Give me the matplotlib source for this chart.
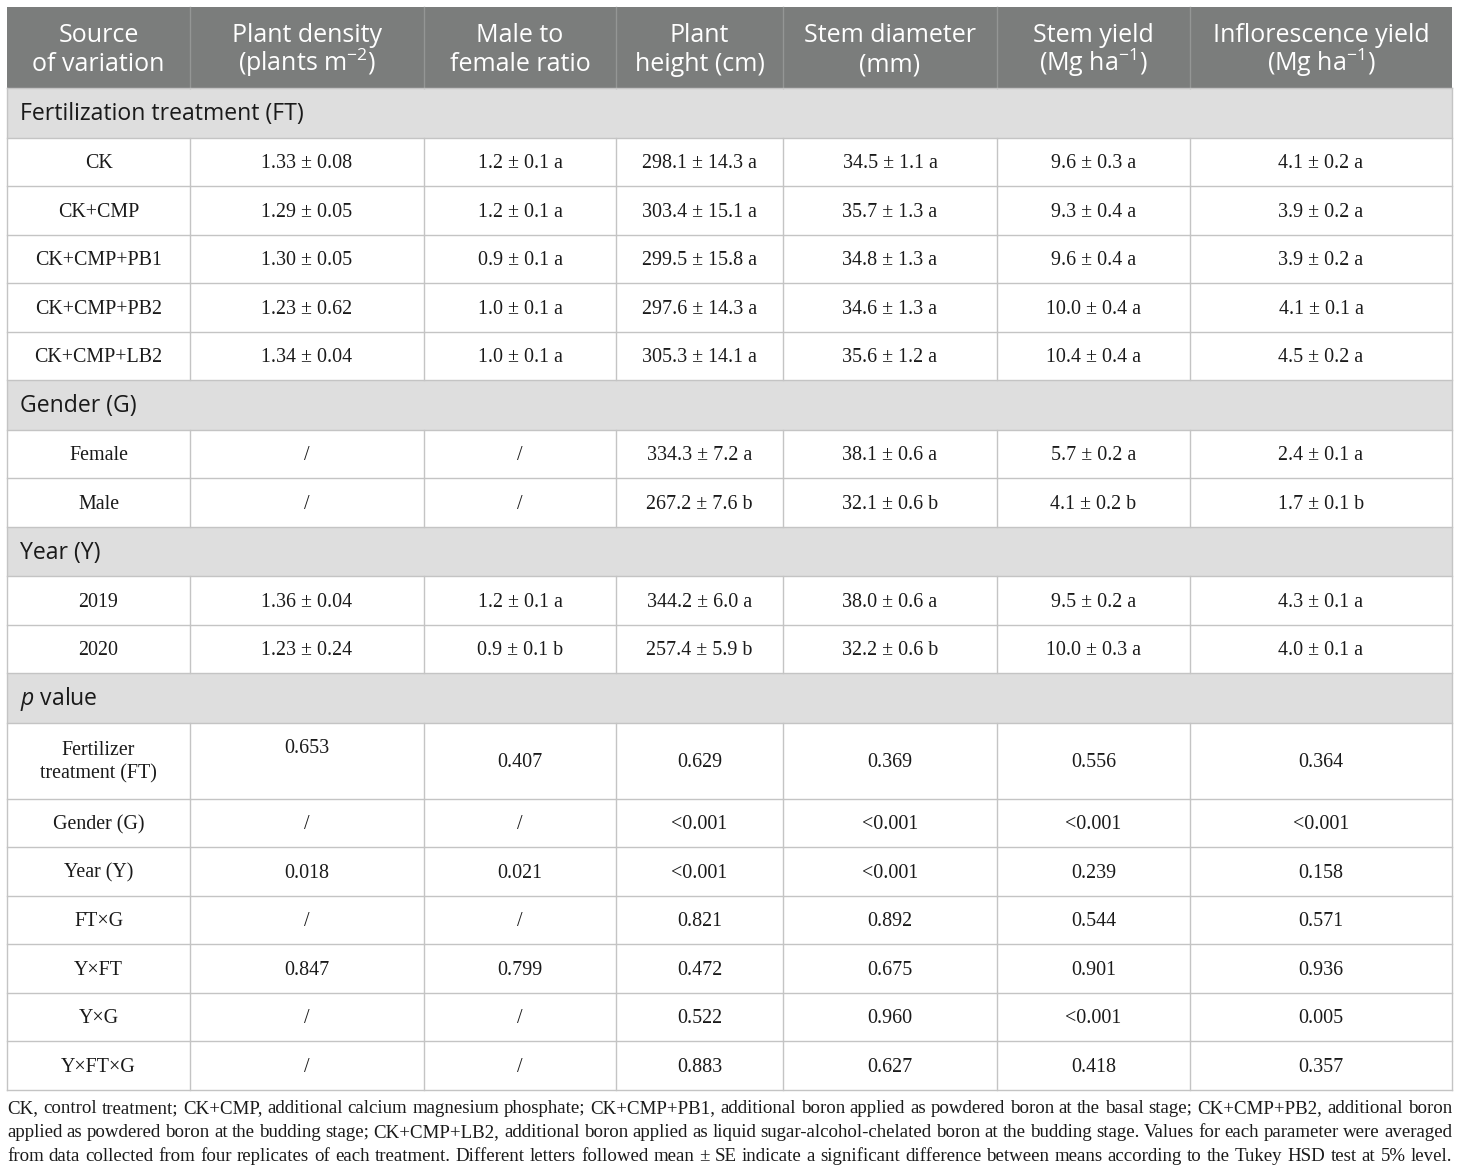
import matplotlib
matplotlib.use("Agg")
import matplotlib.pyplot as plt
from matplotlib.patches import Rectangle

plt.rcParams["mathtext.fontset"] = "custom"
plt.rcParams["mathtext.rm"] = "Open Sans"
plt.rcParams["mathtext.it"] = "Open Sans:italic"

# ---- table content ----
headers = [
    "Source\nof variation",
    "Plant density\n(plants m$^{-2}$)",
    "Male to\nfemale ratio",
    "Plant\nheight (cm)",
    "Stem diameter\n(mm)",
    "Stem yield\n(Mg ha$^{-1}$)",
    "Inflorescence yield\n(Mg ha$^{-1}$)",
]

ft_names = ["CK", "CK+CMP", "CK+CMP+PB1", "CK+CMP+PB2", "CK+CMP+LB2"]
ft_density = ["1.33 ± 0.08", "1.29 ± 0.05", "1.30 ± 0.05", "1.23 ± 0.62", "1.34 ± 0.04"]
ft_ratio = ["1.2 ± 0.1 a", "1.2 ± 0.1 a", "0.9 ± 0.1 a", "1.0 ± 0.1 a", "1.0 ± 0.1 a"]
ft_height = ["298.1 ± 14.3 a", "303.4 ± 15.1 a", "299.5 ± 15.8 a", "297.6 ± 14.3 a", "305.3 ± 14.1 a"]
ft_diam = ["34.5 ± 1.1 a", "35.7 ± 1.3 a", "34.8 ± 1.3 a", "34.6 ± 1.3 a", "35.6 ± 1.2 a"]
ft_stem = ["9.6 ± 0.3 a", "9.3 ± 0.4 a", "9.6 ± 0.4 a", "10.0 ± 0.4 a", "10.4 ± 0.4 a"]
ft_infl = ["4.1 ± 0.2 a", "3.9 ± 0.2 a", "3.9 ± 0.2 a", "4.1 ± 0.1 a", "4.5 ± 0.2 a"]

g_names = ["Female", "Male"]
g_density = ["/", "/"]
g_ratio = ["/", "/"]
g_height = ["334.3 ± 7.2 a", "267.2 ± 7.6 b"]
g_diam = ["38.1 ± 0.6 a", "32.1 ± 0.6 b"]
g_stem = ["5.7 ± 0.2 a", "4.1 ± 0.2 b"]
g_infl = ["2.4 ± 0.1 a", "1.7 ± 0.1 b"]

y_names = ["2019", "2020"]
y_density = ["1.36 ± 0.04", "1.23 ± 0.24"]
y_ratio = ["1.2 ± 0.1 a", "0.9 ± 0.1 b"]
y_height = ["344.2 ± 6.0 a", "257.4 ± 5.9 b"]
y_diam = ["38.0 ± 0.6 a", "32.2 ± 0.6 b"]
y_stem = ["9.5 ± 0.2 a", "10.0 ± 0.3 a"]
y_infl = ["4.3 ± 0.1 a", "4.0 ± 0.1 a"]

p_names = ["Fertilizer\ntreatment (FT)", "Gender (G)", "Year (Y)", "FT×G", "Y×FT", "Y×G", "Y×FT×G"]
p_density = ["0.653", "/", "0.018", "/", "0.847", "/", "/"]
p_ratio = ["0.407", "/", "0.021", "/", "0.799", "/", "/"]
p_height = ["0.629", "<0.001", "<0.001", "0.821", "0.472", "0.522", "0.883"]
p_diam = ["0.369", "<0.001", "<0.001", "0.892", "0.675", "0.960", "0.627"]
p_stem = ["0.556", "<0.001", "0.239", "0.544", "0.901", "<0.001", "0.418"]
p_infl = ["0.364", "<0.001", "0.158", "0.571", "0.936", "0.005", "0.357"]

sections = [
    ("Fertilization treatment (FT)", ft_names, [ft_density, ft_ratio, ft_height, ft_diam, ft_stem, ft_infl]),
    ("Gender (G)", g_names, [g_density, g_ratio, g_height, g_diam, g_stem, g_infl]),
    ("Year (Y)", y_names, [y_density, y_ratio, y_height, y_diam, y_stem, y_infl]),
    ("$\\mathit{p}$ value", p_names, [p_density, p_ratio, p_height, p_diam, p_stem, p_infl]),
]

foot_lines = [
    "CK, control treatment; CK+CMP, additional calcium magnesium phosphate; CK+CMP+PB1, additional boron applied as powdered boron at the basal stage; CK+CMP+PB2, additional boron",
    "applied as powdered boron at the budding stage; CK+CMP+LB2, additional boron applied as liquid sugar-alcohol-chelated boron at the budding stage. Values for each parameter were averaged",
    "from data collected from four replicates of each treatment. Different letters followed mean ± SE indicate a significant difference between means according to the Tukey HSD test at 5% level.",
]

# ---- layout (pixels) ----
W, H = 1460, 1174
col_x = [7, 190, 424, 616, 783, 997, 1190, 1452]
header_top, header_bot = 7, 88
header_baselines = [42, 71]
row_h = 48.5
tall_h = 76

HEADER_BG = "#7b7d7c"
SECTION_BG = "#dedede"
GRID = "#c4c4c4"
TXT = "#1a1a1a"
SERIF = "Liberation Serif"
SANS = "Open Sans"
BODY_FS = 14.4
FOOT_FS = 13.6

fig = plt.figure(figsize=(W / 100, H / 100), dpi=100)
ax = fig.add_axes([0, 0, 1, 1])
ax.set_xlim(0, W)
ax.set_ylim(H, 0)
ax.axis("off")

left, right = col_x[0], col_x[-1]

# header
ax.add_patch(Rectangle((left, header_top), right - left, header_bot - header_top,
                       facecolor=HEADER_BG, edgecolor="none"))
for x in col_x[1:-1]:
    ax.plot([x, x], [header_top, header_bot], color="#949695", lw=1)
for i, h in enumerate(headers):
    cx = (col_x[i] + col_x[i + 1]) / 2
    for part, by in zip(h.split("\n"), header_baselines):
        ax.text(cx, by, part, ha="center", va="baseline",
                fontsize=18, color="white", family=SANS)

y = header_bot
hlines = [header_bot]
for title, names, cols in sections:
    ax.add_patch(Rectangle((left, y), right - left, row_h + 1, facecolor=SECTION_BG, edgecolor="none"))
    ax.text(20, y + row_h / 2 + 2, title, ha="left", va="center", fontsize=16.6,
            color=TXT, family=SANS)
    y += row_h + 1
    hlines.append(y)
    for r, name in enumerate(names):
        h = tall_h if "\n" in name else row_h
        cy = y + h / 2 + 2
        for x in col_x[1:-1]:
            ax.plot([x, x], [y, y + h], color=GRID, lw=1)
        ax.text((col_x[0] + col_x[1]) / 2, cy, name, ha="center", va="center",
                fontsize=BODY_FS, family=SERIF, color=TXT, linespacing=1.3)
        for c, vals in enumerate(cols):
            cx = (col_x[c + 1] + col_x[c + 2]) / 2
            vy = cy
            if "\n" in name and c == 0:
                vy = cy - 14
            ax.text(cx, vy, vals[r], ha="center", va="center", fontsize=BODY_FS,
                    family=SERIF, color=TXT)
        y += h
        hlines.append(y)

for yy in hlines:
    ax.plot([left, right], [yy, yy], color=GRID, lw=1)
ax.plot([left, left], [header_bot, y], color=GRID, lw=1)
ax.plot([right, right], [header_bot, y], color=GRID, lw=1)

# footnote, justified lines
fig.canvas.draw()
renderer = fig.canvas.get_renderer()
fy = y + 19
for line in foot_lines:
    words = line.split(" ")
    widths = []
    for w in words:
        t = ax.text(0, 0, w, fontsize=FOOT_FS, family=SERIF)
        widths.append(t.get_window_extent(renderer).width)
        t.remove()
    gap = (right - left - sum(widths)) / (len(words) - 1)
    x = left
    for w, wd in zip(words, widths):
        ax.text(x, fy, w, ha="left", va="center", fontsize=FOOT_FS, family=SERIF, color=TXT)
        x += wd + gap
    fy += 24

fig.savefig("out.png", dpi=100)
